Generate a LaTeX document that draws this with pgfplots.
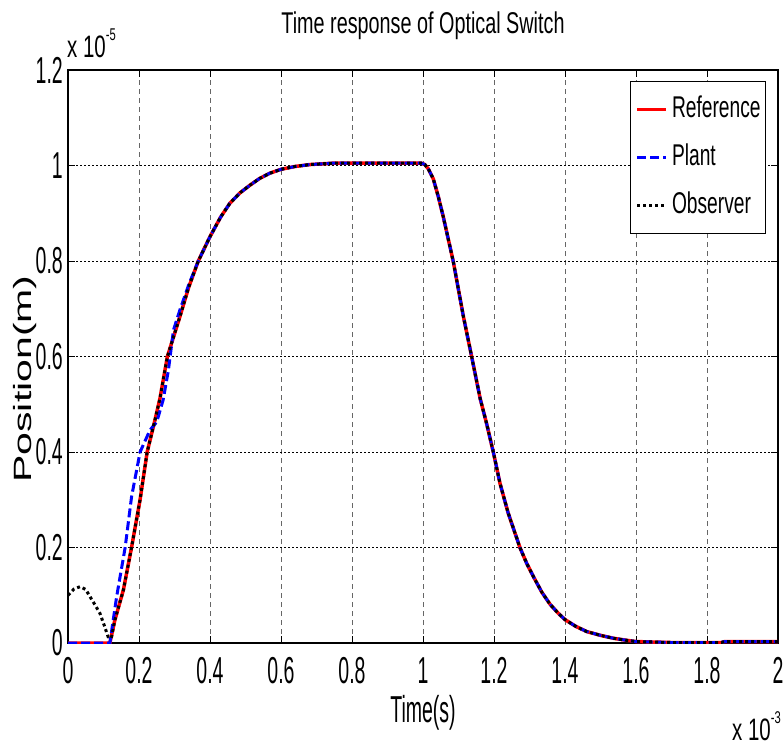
\documentclass[border=0pt]{standalone}
\usepackage{fontspec}
\usepackage{graphicx}
\usepackage{pgfplots}
\pgfplotsset{compat=1.18}
\setmainfont{Liberation Sans}
\newfontfamily\tickfont[FakeStretch=0.52]{Liberation Sans}
\newfontfamily\titlefont[FakeStretch=0.66]{Liberation Sans}
\newfontfamily\legfont[FakeStretch=0.64]{Liberation Sans}
\newfontfamily\ylabfont{Liberation Sans}

% x in 1e-3 s, y in 1e-5 m
\pgfplotstableread{
x y
0 0
0.118 0
0.132 0.048
0.156 0.111
0.179 0.200
0.203 0.300
0.223 0.400
0.245 0.467
0.259 0.512
0.280 0.600
0.315 0.683
0.340 0.745
0.367 0.800
0.400 0.851
0.430 0.892
0.456 0.921
0.485 0.943
0.513 0.959
0.540 0.973
0.569 0.984
0.600 0.992
0.640 0.998
0.682 1.002
0.750 1.005
0.995 1.005
1.005 1.002
1.015 0.993
1.029 0.972
1.043 0.935
1.057 0.893
1.085 0.800
1.114 0.683
1.137 0.600
1.161 0.512
1.179 0.460
1.198 0.400
1.217 0.334
1.240 0.272
1.273 0.200
1.292 0.167
1.311 0.139
1.335 0.106
1.358 0.081
1.380 0.063
1.400 0.049
1.430 0.035
1.461 0.024
1.500 0.016
1.536 0.010
1.570 0.006
1.600 0.003
1.700 0.001
1.840 0.001
1.850 0.003
2.000 0.003
}\refdata

\pgfplotstableread{
x y
0 0
0.118 0
0.137 0.097
0.161 0.200
0.179 0.306
0.203 0.400
0.231 0.446
0.250 0.463
0.268 0.509
0.283 0.572
0.297 0.655
0.315 0.697
0.340 0.750
0.367 0.800
0.400 0.851
0.430 0.892
0.456 0.921
0.485 0.943
0.513 0.959
0.540 0.973
0.569 0.984
0.600 0.992
0.640 0.998
0.682 1.002
0.750 1.005
0.995 1.005
1.005 1.002
1.015 0.993
1.029 0.972
1.043 0.935
1.057 0.893
1.085 0.800
1.114 0.683
1.137 0.600
1.161 0.512
1.179 0.460
1.198 0.400
1.217 0.334
1.240 0.272
1.273 0.200
1.292 0.167
1.311 0.139
1.335 0.106
1.358 0.081
1.380 0.063
1.400 0.049
1.430 0.035
1.461 0.024
1.500 0.016
1.536 0.010
1.570 0.006
1.600 0.003
1.700 0.001
1.840 0.001
1.850 0.003
2.000 0.003
}\plantdata

\pgfplotstableread{
x y
0 0.100
0.017 0.113
0.034 0.118
0.050 0.112
0.062 0.097
0.076 0.080
0.090 0.062
0.103 0.035
0.113 0.013
0.122 0.010
0.132 0.048
0.156 0.111
0.179 0.200
0.203 0.300
0.223 0.400
0.245 0.467
0.259 0.512
0.280 0.600
0.315 0.683
0.340 0.745
0.367 0.800
0.400 0.851
0.430 0.892
0.456 0.921
0.485 0.943
0.513 0.959
0.540 0.973
0.569 0.984
0.600 0.992
0.640 0.998
0.682 1.002
0.750 1.005
0.995 1.005
1.005 1.002
1.015 0.993
1.029 0.972
1.043 0.935
1.057 0.893
1.085 0.800
1.114 0.683
1.137 0.600
1.161 0.512
1.179 0.460
1.198 0.400
1.217 0.334
1.240 0.272
1.273 0.200
1.292 0.167
1.311 0.139
1.335 0.106
1.358 0.081
1.380 0.063
1.400 0.049
1.430 0.035
1.461 0.024
1.500 0.016
1.536 0.010
1.570 0.006
1.600 0.003
1.700 0.001
1.840 0.001
1.850 0.003
2.000 0.003
}\obsdata

\begin{document}
\begin{tikzpicture}
\useasboundingbox (-68pt,-102pt) rectangle (715pt,643pt);
\begin{axis}[name=ax, at={(0pt,0pt)}, anchor=south west,
  scale only axis, width=710pt, height=573pt,
  xmin=0, xmax=2, ymin=0, ymax=1.2,
  xtick={0,0.2,0.4,0.6,0.8,1,1.2,1.4,1.6,1.8,2},
  ytick={0,0.2,0.4,0.6,0.8,1,1.2},
  scaled ticks=false,
  axis line style={black, line width=1.1pt},
  tick align=inside, major tick length=7pt,
  tick style={black, line width=0.8pt},
  /pgf/number format/assume math mode=true,
  tick label style={font=\tickfont\fontsize{37.5}{40}\selectfont, inner sep=0pt},
  xticklabel style={yshift=-14pt},
  yticklabel style={xshift=-5pt},
  grid=major,
  x grid style={gray!80!black, line width=0.8pt, dash pattern=on 5pt off 4pt},
  y grid style={black, line width=0.8pt, dash pattern=on 1.5pt off 2.5pt},
  title={Time response of Optical Switch},
  title style={font=\titlefont\fontsize{30}{32}\selectfont, at={(rel axis cs:0.5,1)}, anchor=base, yshift=30pt, inner sep=0pt},
  xlabel={Time(s)},
  xlabel style={font=\tickfont\fontsize{37.5}{40}\selectfont, at={(rel axis cs:0.5,0)}, anchor=base, yshift=-79pt, inner sep=0pt},
  legend style={at={(rel axis cs:0.9831,0.9808)}, anchor=north east,
    draw=black, line width=0.8pt, fill=white,
    font=\legfont\fontsize{30}{32}\selectfont,
    inner xsep=5pt, inner ysep=14pt, row sep=20pt,
    nodes={inner sep=0pt, text height=22pt, text depth=6pt},
    /tikz/every odd column/.style={column sep=4pt}},
  legend cell align=left,
  legend image code/.code={\draw[#1] (0pt,0pt) -- (29pt,0pt);},
]
\addplot[red, line width=3.5pt] table {\refdata};
\addlegendentry{Reference}
\addplot[blue, line width=3pt, dash pattern=on 9pt off 4pt] table {\plantdata};
\addlegendentry{Plant}
\addplot[black, line width=3pt, dash pattern=on 3pt off 3pt] table {\obsdata};
\addlegendentry{Observer}
\end{axis}
\node[rotate=90, anchor=base, inner sep=0pt] at ([xshift=-36pt, yshift=264pt]ax.south west)
  {\scalebox{1}[0.61]{\ylabfont\fontsize{41}{44}\selectfont Position(m)}};
\node[anchor=base west, inner sep=0pt] at ([yshift=12pt,xshift=-1pt]ax.north west)
  {\titlefont\fontsize{31}{31}\selectfont x 10\raisebox{17pt}{\fontsize{17}{17}\selectfont -5}};
\node[anchor=base east, inner sep=0pt] at ([yshift=-97pt,xshift=3pt]ax.south east)
  {\titlefont\fontsize{31}{31}\selectfont x 10\raisebox{17pt}{\fontsize{17}{17}\selectfont -3}};
\end{tikzpicture}
\end{document}
